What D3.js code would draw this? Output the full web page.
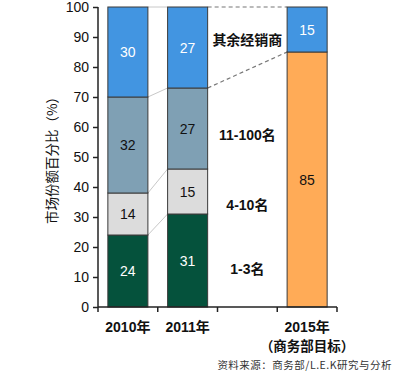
<!DOCTYPE html>
<html>
<head>
<meta charset="utf-8">
<script src="https://cdn.jsdelivr.net/npm/d3@7"></script>
<style>
  body { margin: 0; background: #fff; }
  text { font-family: "Liberation Sans", Arial, "Noto Sans CJK SC", sans-serif; }
</style>
</head>
<body>
<div id="chart"></div>
<script>
const categories = ["2010年", "2011年", "", "2015年"];
const segments = ["1-3名", "4-10名", "11-100名", "其余经销商"];
const values2010 = [24, 14, 32, 30];
const values2011 = [31, 15, 27, 27];
const values2015 = [85, 15];
const yTicks = [0, 10, 20, 30, 40, 50, 60, 70, 80, 90, 100];

const colors = ["#05523c", "#dcdcdc", "#7fa0b4", "#4295e1"];
const textColors = ["#fff", "#111", "#111", "#fff"];

const width = 400, height = 374;
const margin = {top: 7, left: 98, right: 63, bottom: 67};
const innerW = width - margin.left - margin.right;
const innerH = height - margin.top - margin.bottom;

const svg = d3.select("#chart").append("svg")
  .attr("width", width)
  .attr("height", height);

const g = svg.append("g")
  .attr("transform", `translate(${margin.left},${margin.top})`);

const x = d3.scaleBand()
  .domain(categories.map((c, i) => i))
  .range([0, innerW])
  .paddingInner(0.33)
  .paddingOuter(0.165);

const y = d3.scaleLinear().domain([0, 100]).range([innerH, 0]);

// stacked data
function stackUp(vals, cols, txt) {
  let acc = 0;
  return vals.map((v, i) => {
    const d = {y0: acc, y1: acc + v, v: v, fill: cols[i], tc: txt[i]};
    acc += v;
    return d;
  });
}
const bars = [
  {i: 0, segs: stackUp(values2010, colors, textColors)},
  {i: 1, segs: stackUp(values2011, colors, textColors)},
  {i: 3, segs: stackUp(values2015, ["#ffab57", "#4295e1"], ["#111", "#fff"])}
];

// light connectors 2010 -> 2011
const s10 = bars[0].segs, s11 = bars[1].segs, s15 = bars[2].segs;
const b = x.bandwidth();
[0, 1, 2, 3].forEach(k => {
  g.append("line")
    .attr("x1", x(0) + b).attr("x2", x(1))
    .attr("y1", y(s10[k].y1)).attr("y2", y(s11[k].y1))
    .attr("stroke", "#c8c8c8").attr("stroke-width", 1);
});
// dashed connectors 2011 -> 2015
[[s11[3].y1, s15[1].y1], [s11[2].y1, s15[0].y1]].forEach(p => {
  g.append("line")
    .attr("x1", x(1) + b).attr("x2", x(3))
    .attr("y1", y(p[0])).attr("y2", y(p[1]))
    .attr("stroke", "#777").attr("stroke-width", 1.2)
    .attr("stroke-dasharray", "4,3");
});

bars.forEach(bar => {
  const bg = g.append("g");
  bg.selectAll("rect").data(bar.segs).join("rect")
    .attr("x", x(bar.i))
    .attr("width", b)
    .attr("y", d => y(d.y1))
    .attr("height", d => y(d.y0) - y(d.y1))
    .attr("fill", d => d.fill)
    .attr("stroke", "#3a3a3a")
    .attr("stroke-width", 1);
  bg.selectAll("text").data(bar.segs).join("text")
    .attr("x", x(bar.i) + b / 2)
    .attr("y", d => y((d.y0 + d.y1) / 2) + 5)
    .attr("text-anchor", "middle")
    .attr("font-size", 14)
    .attr("fill", d => d.tc)
    .text(d => d.v);
});

// segment labels in the empty band
const labelOffsets = [-2.8, -4.5, -2.2, 2.5];
g.selectAll(".seglabel").data(segments).join("text")
  .attr("class", "seglabel")
  .attr("x", x(2) + b / 2)
  .attr("y", (d, i) => y((s11[i].y0 + s11[i].y1) / 2 + labelOffsets[i]) + 5)
  .attr("text-anchor", "middle")
  .attr("font-size", 14)
  .attr("font-weight", "bold")
  .attr("fill", "#111")
  .text(d => d);

// y axis
g.append("g")
  .call(d3.axisLeft(y).tickValues(yTicks).tickSize(5).tickPadding(4))
  .call(a => a.select(".domain").attr("stroke", "#222").attr("stroke-width", 1.5).attr("d", `M0,${innerH}V0`))
  .call(a => a.selectAll(".tick line").attr("stroke", "#222").attr("stroke-width", 1.5))
  .call(a => a.selectAll(".tick text").attr("font-size", 14).attr("fill", "#111")
    .style("font-family", '"Liberation Sans", Arial, sans-serif'));

// x axis with ticks at band edges
const xa = g.append("g").attr("transform", `translate(0,${innerH})`);
xa.append("line").attr("x1", 0).attr("x2", innerW).attr("stroke", "#222").attr("stroke-width", 1.5);
const step = x.step();
d3.range(categories.length + 1).forEach(k => {
  const xx = Math.min(k * step, innerW);
  xa.append("line").attr("x1", xx).attr("x2", xx).attr("y1", 0).attr("y2", 5)
    .attr("stroke", "#222").attr("stroke-width", 1.5);
});
categories.forEach((c, i) => {
  if (!c) return;
  xa.append("text")
    .attr("x", x(i) + b / 2).attr("y", 25)
    .attr("text-anchor", "middle")
    .attr("font-size", 14).attr("font-weight", "bold").attr("fill", "#111")
    .text(c);
});
xa.append("text")
  .attr("x", x(3) + b / 2).attr("y", 44)
  .attr("text-anchor", "middle")
  .attr("font-size", 13.5).attr("font-weight", "bold").attr("fill", "#111")
  .style("font-family", '"Noto Sans CJK SC", sans-serif')
  .text("（商务部目标）");

// y label
svg.append("text")
  .attr("transform", `translate(57,${margin.top + innerH / 2}) rotate(-90)`)
  .attr("text-anchor", "middle")
  .attr("font-size", 13.5)
  .attr("fill", "#111")
  .style("font-family", '"Noto Sans CJK SC", sans-serif')
  .text("市场份额百分比（%）");

// source
svg.append("text")
  .attr("x", 392).attr("y", 369)
  .attr("text-anchor", "end")
  .attr("font-size", 10.5)
  .attr("fill", "#333")
  .attr("letter-spacing", 0.5)
  .style("font-family", '"Noto Sans CJK SC", sans-serif')
  .text("资料来源：商务部/L.E.K研究与分析");
</script>
</body>
</html>
